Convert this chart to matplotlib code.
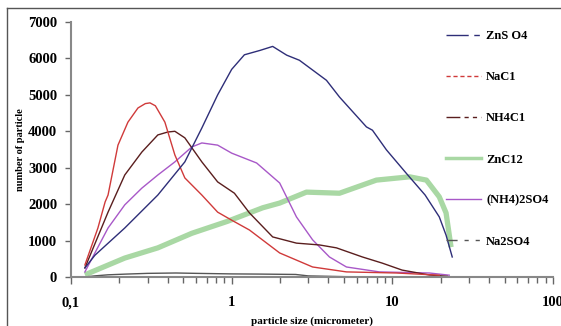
import matplotlib
matplotlib.use("Agg")
import matplotlib.pyplot as plt
from matplotlib.lines import Line2D
from matplotlib.ticker import FixedLocator, FixedFormatter, LogLocator, NullFormatter

# valeurs (taille en micrometre, nombre de particules)
x_znso4 = [0.122, 0.141, 0.216, 0.347, 0.511, 0.652, 0.818, 1.0, 1.2, 1.5, 1.8, 2.2, 2.64,
           3.89, 4.69, 6.9, 7.52, 9.19, 12.2, 16.0, 19.6, 21.6, 23.6]
y_znso4 = [250, 600, 1345, 2250, 3160, 4090, 5000, 5700, 6100, 6220, 6330, 6090, 5950,
           5400, 4940, 4120, 4030, 3490, 2850, 2250, 1650, 1150, 550]

x_nacl = [0.122, 0.147, 0.163, 0.170, 0.196, 0.226, 0.261, 0.290, 0.310, 0.335, 0.384,
          0.443, 0.511, 0.652, 0.818, 1.0, 1.29, 1.99, 3.19, 5.18, 10.6, 19.6]
y_nacl = [330, 1345, 2060, 2250, 3620, 4250, 4640, 4760, 4780, 4700, 4250,
          3350, 2720, 2250, 1780, 1560, 1290, 660, 275, 140, 110, 50]

x_nh4cl = [0.122, 0.170, 0.216, 0.276, 0.347, 0.400, 0.443, 0.511, 0.652, 0.818, 1.04, 1.29,
           1.80, 2.53, 3.52, 4.49, 6.51, 8.67, 11.5, 17.0, 22.0]
y_nh4cl = [250, 1780, 2800, 3430, 3900, 3980, 4000, 3820, 3160, 2610, 2300, 1760,
           1100, 930, 880, 800, 550, 380, 190, 55, 20]

x_zncl2 = [0.122, 0.216, 0.347, 0.565, 0.944, 1.56, 1.99, 2.92, 4.69, 7.96, 12.8, 16.3,
           19.6, 21.6, 23.2]
y_zncl2 = [60, 520, 800, 1200, 1530, 1900, 2030, 2330, 2300, 2660, 2750, 2660,
           2200, 1760, 820]

x_nh42so4 = [0.122, 0.170, 0.216, 0.276, 0.347, 0.443, 0.565, 0.652, 0.818, 1.0, 1.43,
             1.99, 2.53, 3.19, 4.06, 5.18, 8.30, 17.0, 22.6]
y_nh42so4 = [140, 1345, 1980, 2440, 2800, 3160, 3570, 3680, 3620, 3400, 3130,
             2580, 1650, 1020, 550, 275, 140, 110, 50]

x_na2so4 = [0.122, 0.14, 0.17, 0.22, 0.3, 0.45, 0.6, 1.0, 1.5, 2.5, 3.0, 5.0, 10.0]
y_na2so4 = [0, 30, 60, 80, 100, 110, 100, 85, 80, 70, 30, 10, 0]

labels = ["ZnS O4", "NaC1", "NH4C1", "ZnC12", "(NH4)2SO4", "Na2SO4"]

c_znso4 = "#2e2e78"
c_nacl = "#d03a3a"
c_nh4cl = "#5a1e1e"
c_zncl2 = "#a9d8a4"
c_nh42so4 = "#a858c8"
c_na2so4 = "#555555"

plt.rcParams['font.family'] = ['Liberation Serif', 'DejaVu Serif']
plt.rcParams['font.weight'] = 'bold'

fig = plt.figure(figsize=(5.61, 3.26), dpi=100)
ax = fig.add_axes([0.1266, 0.1503, 0.8591, 0.7822])

ax.plot(x_zncl2, y_zncl2, color=c_zncl2, lw=3.8, solid_capstyle='butt')
ax.plot(x_na2so4, y_na2so4, color=c_na2so4, lw=1.0)
ax.plot(x_nh42so4, y_nh42so4, color=c_nh42so4, lw=1.0)
ax.plot(x_nh4cl, y_nh4cl, color=c_nh4cl, lw=1.0)
ax.plot(x_nacl, y_nacl, color=c_nacl, lw=1.0)
ax.plot(x_znso4, y_znso4, color=c_znso4, lw=1.0)

ax.set_xscale('log')
ax.set_xlim(0.1, 100)
ax.set_ylim(0, 7000)
ax.set_yticks(range(0, 7001, 1000))

ax.xaxis.set_major_locator(FixedLocator([0.1, 1, 10, 100]))
ax.xaxis.set_major_formatter(FixedFormatter(["0,1", "1", "10", "100"]))
ax.xaxis.set_minor_locator(LogLocator(base=10, subs=range(2, 10)))
ax.xaxis.set_minor_formatter(NullFormatter())

for s in ['top', 'right']:
    ax.spines[s].set_visible(False)
for s in ['left', 'bottom']:
    ax.spines[s].set_color('#888888')
    ax.spines[s].set_linewidth(1.5)

ax.tick_params(axis='y', direction='out', length=4, width=1, color='#666666',
               labelsize=10.5, pad=6)
ax.tick_params(axis='x', which='major', direction='out', length=5, width=1,
               color='#666666', labelsize=10.5, pad=9)
ax.tick_params(axis='x', which='minor', direction='out', length=4, width=1,
               color='#666666')

ax.set_xlabel("particle size (micrometer)", fontsize=8, fontweight='bold', labelpad=5)
ax.set_ylabel("number of particle", fontsize=7.5, fontweight='bold', labelpad=2)

# legende avec les traits comme dans l'original
handles = [
    Line2D([], [], color=c_znso4, lw=1.0, dashes=(16, 4, 4, 40)),
    Line2D([], [], color=c_nacl, lw=1.0, dashes=(3, 2)),
    Line2D([], [], color=c_nh4cl, lw=1.0, dashes=(10, 3, 3, 3, 3, 3, 3, 40)),
    Line2D([], [], color=c_zncl2, lw=2.5),
    Line2D([], [], color=c_nh42so4, lw=1.0),
    Line2D([], [], color=c_na2so4, lw=1.0, dashes=(8, 5, 3, 5, 3, 40)),
]
leg = fig.legend(handles, labels, loc='upper left', bbox_to_anchor=(0.775, 0.942),
                 frameon=False, fontsize=9, labelspacing=2.33, handlelength=2.8,
                 handletextpad=0.4)

# cadre autour de l'image (seuls les bords haut et gauche sont visibles)
fig.add_artist(Line2D([7 / 561, 1.0], [1 - 8 / 326, 1 - 8 / 326], color='#555555', lw=1.0))
fig.add_artist(Line2D([7 / 561, 7 / 561], [0, 1 - 8 / 326], color='#555555', lw=1.0))

fig.savefig("out.png", dpi=100)
